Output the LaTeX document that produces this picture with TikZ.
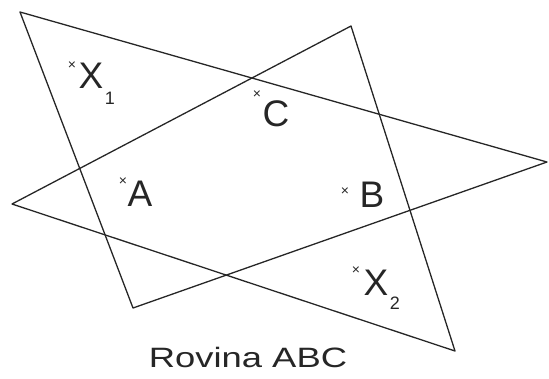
\documentclass[tikz,border=0pt]{standalone}
\usepackage{fontspec}
\usepackage{graphicx}
\setmainfont{Liberation Sans}
\begin{document}
\begin{tikzpicture}[x=1pt,y=-1pt,
  edge/.style={line width=1.3pt,line join=round,line cap=round,black!85},
  lbl/.style={font=\fontsize{37}{37}\selectfont,inner sep=0pt,black!85},
  sub/.style={font=\fontsize{18}{18}\selectfont,inner sep=0pt,black!85},
  mk/.style={font=\fontsize{14}{14}\selectfont,inner sep=0pt,black!85}]
\useasboundingbox (0,0) rectangle (549,378);
% triangle 1
\coordinate (P1) at (20,12);
\coordinate (P2) at (547,162);
\coordinate (P3) at (133,308);
% triangle 2
\coordinate (Q1) at (351,26);
\coordinate (Q2) at (12,204);
\coordinate (Q3) at (455,351);
\draw[edge] (P1) -- (P2) -- (P3) -- cycle;
\draw[edge] (Q1) -- (Q2) -- (Q3) -- cycle;
% labels
\node[mk] (mx1) at (72,66) {×};
\node[lbl] (X1) at (91,76) {X};
\node[sub] (s1) at (110,98) {1};
\node[mk] (mc) at (257,95) {×};
\node[lbl] (C) at (276,114) {C};
\node[mk] (ma) at (123,182) {×};
\node[lbl] (A) at (140,194) {A};
\node[mk] (mb) at (345,192) {×};
\node[lbl] (B) at (372,195) {B};
\node[mk] (mx2) at (356,271) {×};
\node[lbl] (X2) at (376,283) {X};
\node[sub] (s2) at (395,303) {2};
\node[font=\fontsize{28}{28}\selectfont,inner sep=0pt,black!85] (cap) at (248,357) {\scalebox{1.3}[1]{Rovina ABC}};
\end{tikzpicture}
\end{document}
